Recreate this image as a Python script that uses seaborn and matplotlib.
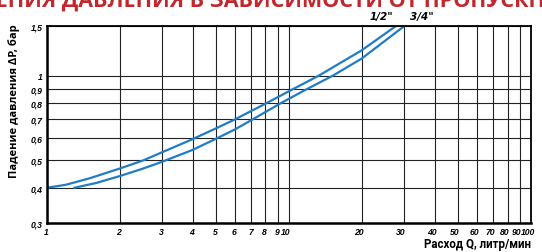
import matplotlib
matplotlib.use("Agg")
import matplotlib.pyplot as plt
import matplotlib.transforms as mtransforms
import seaborn as sns
import pandas as pd
from matplotlib.ticker import FixedLocator, NullLocator

# Данные
q_half = [1, 1.2, 1.5, 2, 2.5, 3, 4, 5, 6, 8, 10, 13.3, 20, 27.7]
dp_half = [0.40, 0.41, 0.432, 0.468, 0.50, 0.535, 0.595, 0.65, 0.70, 0.795, 0.88, 1.00, 1.23, 1.50]

q_34 = [1.3, 1.6, 2, 2.5, 3, 4, 5, 6, 7.1, 9.3, 11.7, 15.2, 20, 30]
dp_34 = [0.40, 0.416, 0.44, 0.468, 0.495, 0.545, 0.597, 0.645, 0.70, 0.80, 0.89, 1.00, 1.15, 1.50]

x_ticks = [1, 2, 3, 4, 5, 6, 7, 8, 9, 10, 20, 30, 40, 50, 60, 70, 80, 90, 100]
y_ticks = [0.3, 0.4, 0.5, 0.6, 0.7, 0.8, 0.9, 1, 1.5]
y_labels = ["0,3", "0,4", "0,5", "0,6", "0,7", "0,8", "0,9", "1", "1,5"]

df = pd.concat([
    pd.DataFrame({"Q": q_half, "dP": dp_half, "size": '1/2"'}),
    pd.DataFrame({"Q": q_34, "dP": dp_34, "size": '3/4"'}),
])

sns.set_style("white")
plt.rcParams["text.color"] = "black"
plt.rcParams["xtick.color"] = "black"
plt.rcParams["ytick.color"] = "black"

fig = plt.figure(figsize=(5.42, 2.53), dpi=100)
ax = fig.add_axes([0.0862, 0.1146, 0.8935, 0.7787])
ax.set_xscale("log")
ax.set_yscale("log")

sns.lineplot(data=df, x="Q", y="dP", units="size", estimator=None, sort=False,
             color="#1f7cc8", linewidth=1.6, ax=ax, legend=False)

ax.set_xlim(1, 100)
ax.set_ylim(0.3, 1.5)
ax.xaxis.set_major_locator(FixedLocator(x_ticks))
ax.xaxis.set_minor_locator(NullLocator())
ax.yaxis.set_major_locator(FixedLocator(y_ticks))
ax.yaxis.set_minor_locator(NullLocator())
ax.set_xticklabels([str(t) for t in x_ticks])
ax.set_yticklabels(y_labels)
ax.grid(True, color="#222222", linewidth=0.8)
ax.tick_params(length=0, pad=3, labelcolor="black")
for lab in ax.get_xticklabels() + ax.get_yticklabels():
    lab.set_fontfamily("Liberation Sans")
    lab.set_fontweight("bold")
    lab.set_fontstyle("italic")
    lab.set_fontsize(6.2)

# подписи оси X стоят слева от линий сетки
for i, lab in enumerate(ax.get_xticklabels()):
    lab.set_horizontalalignment("right")
    dx = 4 if x_ticks[i] == 100 else 1.5
    lab.set_transform(lab.get_transform() + mtransforms.ScaledTranslation(dx / 100, 0, fig.dpi_scale_trans))

for side, lw in [("left", 1.8), ("bottom", 1.8), ("top", 1.3), ("right", 1.3)]:
    ax.spines[side].set_color("black")
    ax.spines[side].set_linewidth(lw)
    ax.spines[side].set_visible(True)

ax.set_xlabel("")
ax.set_ylabel("")
fig.text(0.98, 0.035, "Расход Q, литр/мин", ha="right", va="center", color="black",
         fontfamily="Roboto", fontweight="bold", fontsize=8.3)
fig.text(0.026, 0.6, "Падение давления ΔP, бар", rotation=90, ha="center", va="center",
         color="black", fontfamily="Open Sans", fontweight="bold", fontsize=8)

# Подписи кривых
ax.text(27.0, 1.56, '1/2"', ha="right", va="bottom", fontfamily="DejaVu Sans", color="black",
        fontweight="bold", fontstyle="italic", fontsize=7.5, clip_on=False)
ax.text(31.5, 1.56, '3/4"', ha="left", va="bottom", fontfamily="DejaVu Sans", color="black",
        fontweight="bold", fontstyle="italic", fontsize=7.5, clip_on=False)

# Заголовок, обрезанный краями картинки
title = "ГРАФИК ПАДЕНИЯ ДАВЛЕНИЯ В ЗАВИСИМОСТИ ОТ ПРОПУСКНОЙ СПОСОБНОСТИ"
prefix = "ГРАФИК ПАД"
renderer = fig.canvas.get_renderer()
tmp = fig.text(0, 0, prefix, fontfamily="Open Sans", fontweight="bold", fontsize=15.5)
w = tmp.get_window_extent(renderer).width / fig.bbox.width
tmp.remove()
fig.text(-0.008 - w, 0.974, title, ha="left", va="baseline", color="#c1272d",
         fontfamily="Open Sans", fontweight="bold", fontsize=15.5)

fig.savefig("out.png", dpi=100)
